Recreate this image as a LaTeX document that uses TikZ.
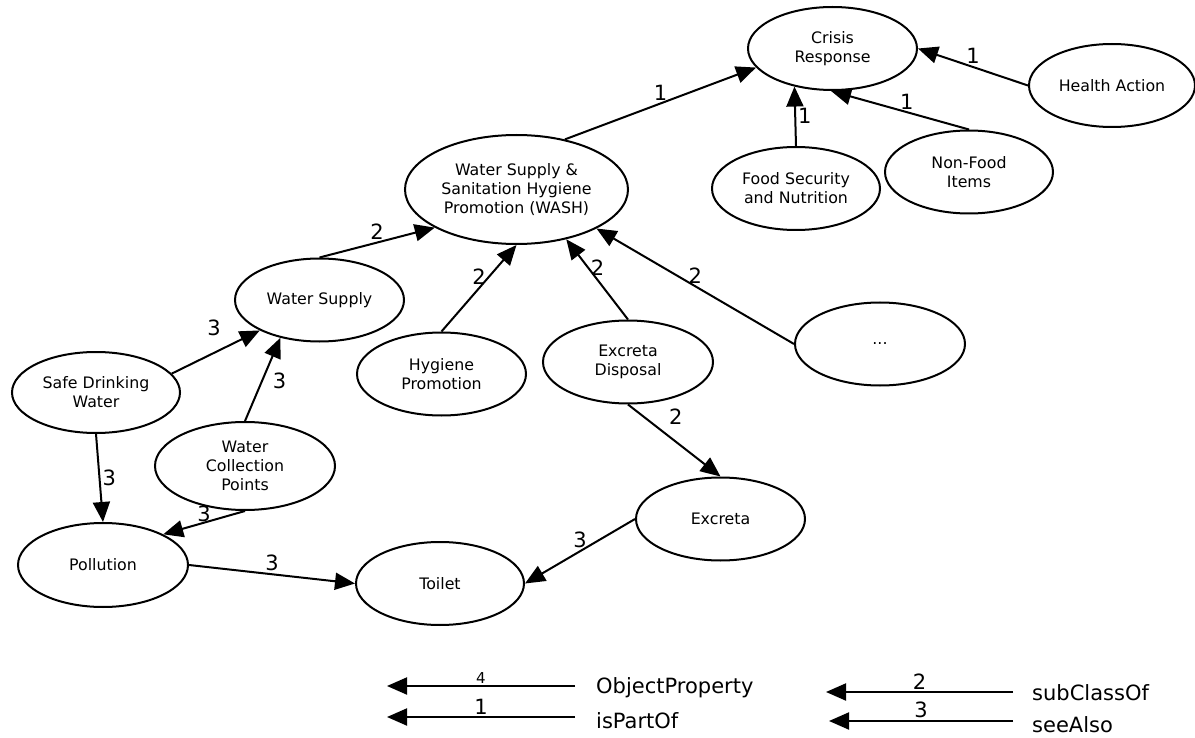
\documentclass[tikz,border=0pt]{standalone}
\usepackage{fontspec}
\setmainfont{DejaVu Sans}
\usetikzlibrary{shapes.geometric, arrows.meta}

\tikzset{
    concept/.style={ellipse, draw, line width=2pt, inner sep=0pt, align=center,
        minimum width=169pt, minimum height=83pt, font=\fontsize{15.8}{19}\selectfont},
    rel/.style={line width=2pt, -{Triangle[length=20pt, width=17pt]}},
    num/.style={font=\fontsize{21}{21}\selectfont, inner sep=2pt},
    key/.style={font=\fontsize{21}{24}\selectfont, inner sep=0pt},
}

\begin{document}
\begin{tikzpicture}[x=1pt, y=-1pt]
            \useasboundingbox (0,0) rectangle (1195,738);

            % concepts
            \node[concept] (crisis) at (832.5,48.5) {Crisis\\Response};
            \node[concept, minimum width=166pt] (health) at (1112,85.5) {Health Action};
            \node[concept, minimum width=168pt] (food) at (796,188.5) {Food Security\\and Nutrition};
            \node[concept, minimum width=168pt] (nonfood) at (969,172) {Non-Food\\Items};
            \node[concept, minimum width=223pt, minimum height=109pt] (wash) at (516.5,189.5)
                {Water Supply \&\\Sanitation Hygiene\\Promotion (WASH)};
            \node[concept] (supply) at (319.5,300) {Water Supply};
            \node[concept] (hygiene) at (441.5,374) {Hygiene\\Promotion};
            \node[concept, minimum width=170pt] (disposal) at (628,362) {Excreta\\Disposal};
            \node[concept, minimum width=170pt] (more) at (880,344) {...};
            \node[concept, minimum width=168pt, minimum height=81pt] (safe) at (96,392.5) {Safe Drinking\\Water};
            \node[concept, minimum width=180pt, minimum height=88pt] (collect) at (245,466) {Water\\Collection\\Points};
            \node[concept, minimum width=170pt, minimum height=84pt] (pollution) at (103,565) {Pollution};
            \node[concept, minimum width=168pt] (toilet) at (440,583.5) {Toilet};
            \node[concept] (excreta) at (720.5,519) {Excreta};

            % isPartOf
            \draw[rel] (wash.46) -- (crisis.194) node[num, midway, above] {1};
            \draw[rel] (health.180) -- (crisis.0) node[num, midway, above] {1};
            \draw[rel] (food.north) -- (crisis.225) node[num, midway, right] {1};
            \draw[rel] (nonfood.north) -- (crisis.268) node[num, pos=0.45, above] {1};

            % subClassOf
            \draw[rel] (supply.north) -- (wash.205) node[num, midway, above] {2};
            \draw[rel] (hygiene.north) -- (wash.south) node[num, pos=0.63, left] {2};
            \draw[rel] (disposal.north) -- (wash.315) node[num, pos=0.65, right] {2};
            \draw[rel] (more.west) -- (wash.334) node[num, midway, above] {2};
            \draw[rel] (disposal.south) -- (excreta.north) node[num, pos=0.37, above right=4pt] {2};

            % seeAlso
            \draw[rel] (safe.14) -- (supply.207) node[num, pos=0.48, above=14pt] {3};
            \draw[rel] (collect.north) -- (supply.224) node[num, pos=0.48, right=8pt] {3};
            \draw[rel] (safe.south) -- (pollution.north) node[num, midway, right] {3};
            \draw[rel] (collect.south) -- (pollution.27) node[num, midway, above, inner sep=0pt] {3};
            \draw[rel] (pollution.east) -- (toilet.west) node[num, midway, above] {3};
            \draw[rel] (excreta.west) -- (toilet.east) node[num, midway, above] {3};

            % legend
            \coordinate (objprop-a) at (575,686);
            \coordinate (objprop-b) at (387,686);
            \coordinate (partof-a) at (575,717);
            \coordinate (partof-b) at (387,717);
            \coordinate (subcls-a) at (1013,692);
            \coordinate (subcls-b) at (826,692);
            \coordinate (seealso-a) at (1013,721);
            \coordinate (seealso-b) at (829,721);
            \draw[rel] (objprop-a) -- (objprop-b) node[num, midway, above, font=\fontsize{15}{15}\selectfont] {4};
            \draw[rel] (partof-a) -- (partof-b) node[num, midway, above] {1};
            \draw[rel] (subcls-a) -- (subcls-b) node[num, midway, above] {2};
            \draw[rel] (seealso-a) -- (seealso-b) node[num, midway, above] {3};
            \node[key, anchor=west] (objprop) at ([xshift=21pt, yshift=-2pt]objprop-a) {ObjectProperty};
            \node[key, anchor=west] (partof) at ([xshift=21pt, yshift=-4pt]partof-a) {isPartOf};
            \node[key, anchor=west] (subcls) at ([xshift=19pt, yshift=-1pt]subcls-a) {subClassOf};
            \node[key, anchor=west] (seealso) at ([xshift=19pt, yshift=-4pt]seealso-a) {seeAlso};
        \end{tikzpicture}
\end{document}
